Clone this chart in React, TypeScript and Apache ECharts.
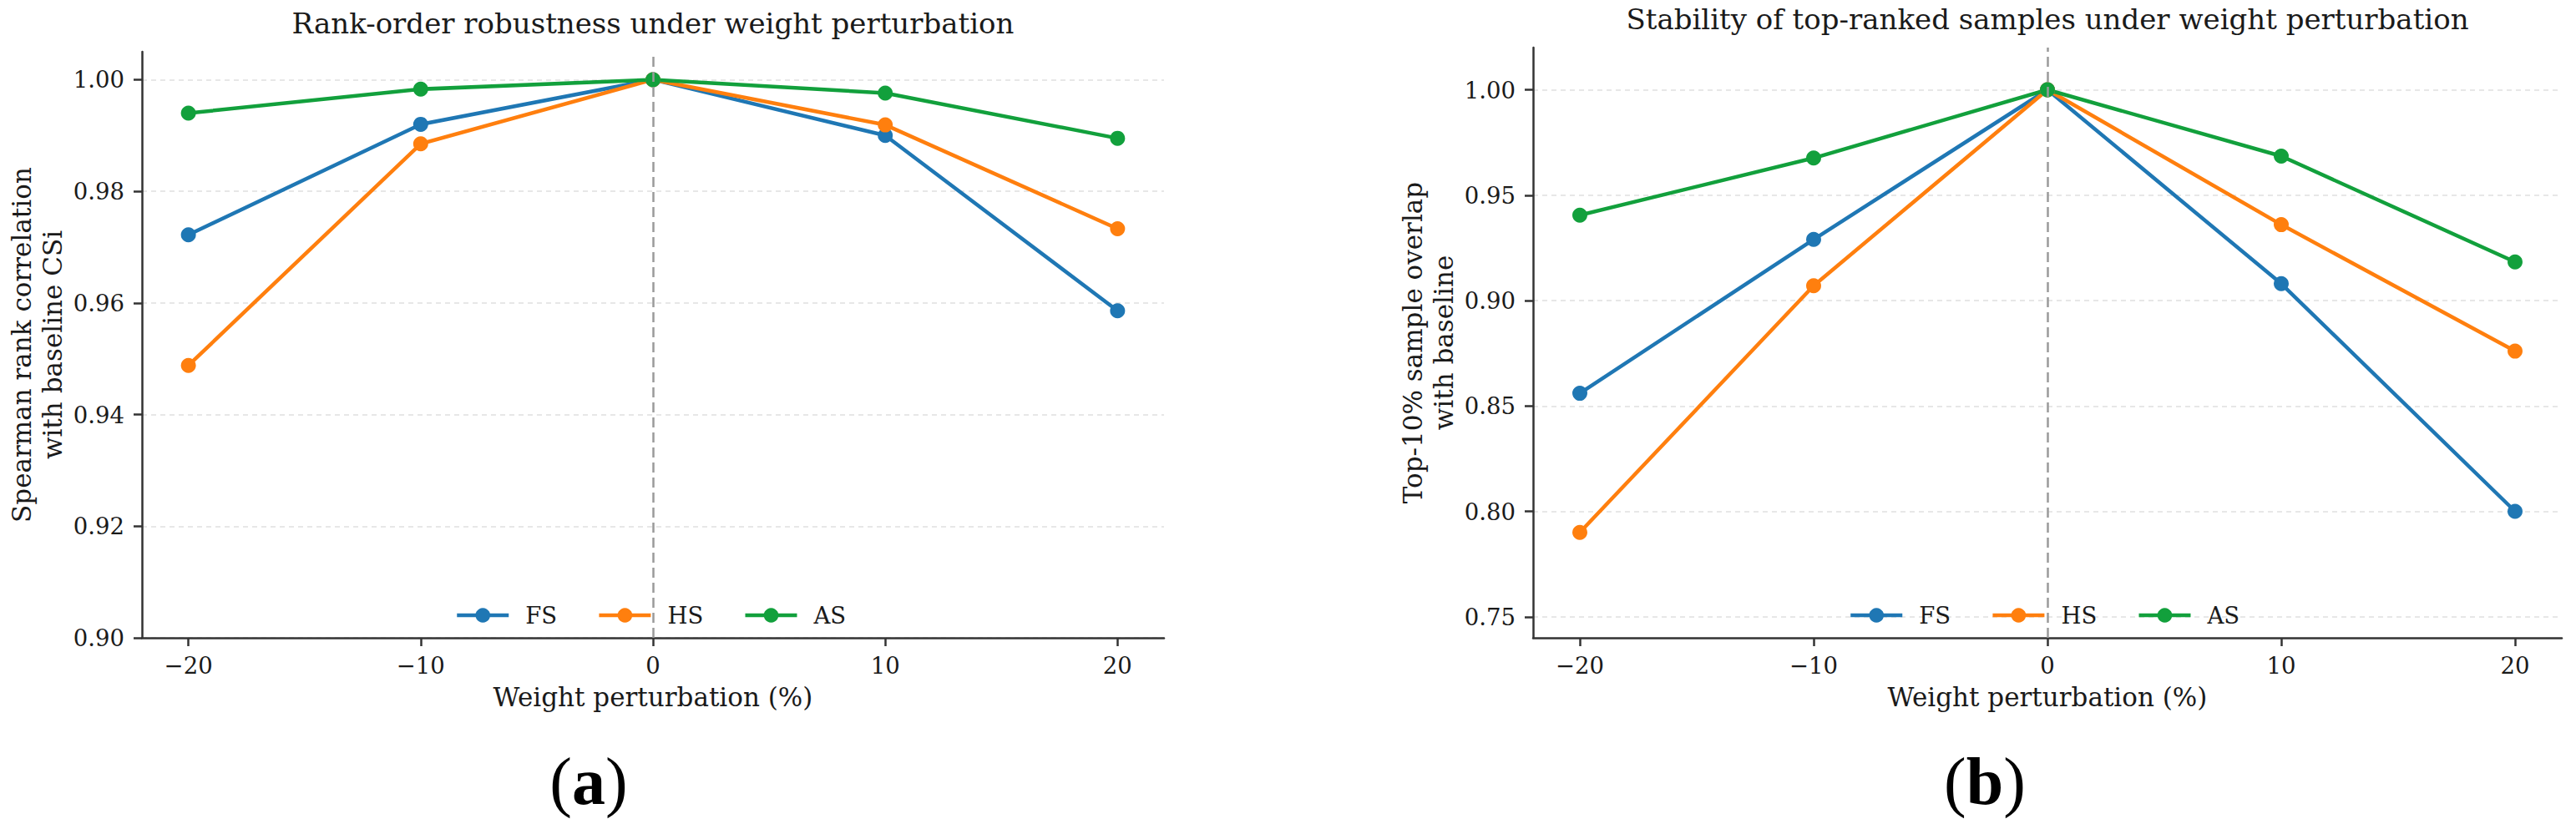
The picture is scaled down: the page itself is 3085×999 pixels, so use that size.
import React, { useEffect, useRef } from "react";
import * as echarts from "echarts";

// ---- data ----
const perturbations = [-20, -10, 0, 10, 20];
const seriesNames = ["FS", "HS", "AS"];
const seriesColors = ["#1f77b4", "#ff7f0e", "#12a03c"];

// (a) Spearman rank correlation with baseline CSi
const fsSpearman = [0.9722, 0.992, 1.0, 0.99, 0.9586];
const hsSpearman = [0.9488, 0.9885, 1.0, 0.9919, 0.9733];
const asSpearman = [0.994, 0.9983, 1.0, 0.9976, 0.9895];

// (b) Top-10% sample overlap with baseline
const fsOverlap = [0.856, 0.929, 1.0, 0.908, 0.8];
const hsOverlap = [0.79, 0.907, 1.0, 0.936, 0.876];
const asOverlap = [0.9405, 0.9676, 1.0, 0.9685, 0.9183];

const xTicks = [-20, -10, 0, 10, 20];
const yTicksA = [0.9, 0.92, 0.94, 0.96, 0.98, 1.0];
const yTicksB = [0.75, 0.8, 0.85, 0.9, 0.95, 1.0];

const titleA = "Rank-order robustness under weight perturbation";
const titleB = "Stability of top-ranked samples under weight perturbation";
const yNameA = "Spearman rank correlation\nwith baseline CSi";
const yNameB = "Top-10% sample overlap\nwith baseline";
const xName = "Weight perturbation (%)";

const FONT = "DejaVu Serif";
const TEXT = "#1a1a1a";
const SPINE = "#333333";
const TICK_FS = 27.5;
const LABEL_FS = 31;
const TITLE_FS = 34;
const LEGEND_FS = 27.5;

function fmtX(v: number) {
  return v < 0 ? "\u2212" + Math.abs(v) : String(v);
}

function xAxisCfg(gridIndex: number) {
  return {
    type: "value",
    gridIndex,
    min: -22,
    max: 22,
    name: xName,
    nameLocation: "middle",
    nameGap: 55,
    nameTextStyle: { fontFamily: FONT, fontSize: LABEL_FS, color: TEXT, lineHeight: 31 },
    axisLine: { show: true, onZero: false, lineStyle: { color: SPINE, width: 2.5 } },
    axisTick: { show: true, length: 10, lineStyle: { color: SPINE, width: 2.5 }, customValues: xTicks },
    axisLabel: {
      fontFamily: FONT,
      fontSize: TICK_FS,
      color: TEXT,
      margin: 19,
      customValues: xTicks,
      formatter: (v: number) => fmtX(v),
    },
    splitLine: { show: false },
  };
}

function yAxisCfg(gridIndex: number, min: number, max: number, ticks: number[], name: string) {
  return {
    type: "value",
    gridIndex,
    min,
    max,
    name,
    nameLocation: "middle",
    nameRotate: 90,
    nameGap: 89,
    nameTextStyle: { fontFamily: FONT, fontSize: LABEL_FS, color: TEXT, lineHeight: 37, align: "center" },
    axisLine: { show: true, onZero: false, lineStyle: { color: SPINE, width: 2.5 } },
    axisTick: { show: true, length: 10, lineStyle: { color: SPINE, width: 2.5 }, customValues: ticks },
    axisLabel: {
      fontFamily: FONT,
      fontSize: TICK_FS,
      color: TEXT,
      margin: 21,
      customValues: ticks,
      formatter: (v: number) => v.toFixed(2),
    },
    splitLine: { show: true, lineStyle: { color: "#e0e0e0", width: 1.5, type: [6, 5] } },
  };
}

function lineSeries(name: string, color: string, values: number[], idx: number, withVLine: boolean) {
  const s: any = {
    type: "line",
    name,
    xAxisIndex: idx,
    yAxisIndex: idx,
    data: perturbations.map((p, i) => [p, values[i]]),
    symbol: "circle",
    symbolSize: 18,
    showSymbol: true,
    itemStyle: { color },
    lineStyle: { color, width: 4.5 },
    emphasis: { disabled: true },
  };
  if (withVLine) {
    s.markLine = {
      silent: true,
      symbol: ["none", "none"],
      label: { show: false },
      lineStyle: { color: "#9a9a9a", width: 2.5, type: [12, 6] },
      data: [{ xAxis: 0 }],
    };
  }
  return s;
}

function legendCfg(left: number) {
  return {
    left,
    top: 723,
    orient: "horizontal",
    padding: 0,
    itemWidth: 62,
    itemHeight: 22,
    itemGap: 48,
    data: seriesNames,
    selectedMode: false,
    lineStyle: { width: 4.5 },
    textStyle: { fontFamily: FONT, fontSize: LEGEND_FS, color: TEXT, padding: [0, 0, 0, 15] },
  };
}

function captionText(letter: string, x: number) {
  const rich: any = {};
  rich[letter] = { fontFamily: "Liberation Serif", fontSize: 80, fontWeight: "bold", fill: "#000" };
  return {
    type: "text",
    style: {
      text: "({" + letter + "|" + letter + "})",
      x,
      y: 936,
      align: "center",
      verticalAlign: "middle",
      fontFamily: "Liberation Serif",
      fontSize: 80,
      fill: "#000",
      rich,
    },
  };
}

export default function App() {
  const ref = useRef<HTMLDivElement>(null);

  useEffect(() => {
    if (!ref.current) return;
    const chart = echarts.init(ref.current, undefined, { renderer: "svg" });
    const dataA = [fsSpearman, hsSpearman, asSpearman];
    const dataB = [fsOverlap, hsOverlap, asOverlap];
    const series: any[] = [];
    seriesNames.forEach((n, i) => series.push(lineSeries(n, seriesColors[i], dataA[i], 0, i === 0)));
    seriesNames.forEach((n, i) => series.push(lineSeries(n, seriesColors[i], dataB[i], 1, i === 0)));

    const option: any = {
      animation: false,
      backgroundColor: "#ffffff",
      title: [
        {
          text: titleA,
          left: 782,
          top: 11,
          textAlign: "center",
          padding: 0,
          textStyle: { fontFamily: FONT, fontSize: TITLE_FS, fontWeight: "normal", color: TEXT },
        },
        {
          text: titleB,
          left: 2452,
          top: 6,
          textAlign: "center",
          padding: 0,
          textStyle: { fontFamily: FONT, fontSize: TITLE_FS, fontWeight: "normal", color: TEXT },
        },
      ],
      legend: [legendCfg(545), legendCfg(2214)],
      grid: [
        { left: 170, top: 62, width: 1224, height: 702, containLabel: false },
        { left: 1836, top: 57, width: 1232, height: 707, containLabel: false },
      ],
      xAxis: [xAxisCfg(0), xAxisCfg(1)],
      yAxis: [
        yAxisCfg(0, 0.9, 1.005, yTicksA, yNameA),
        yAxisCfg(1, 0.74, 1.02, yTicksB, yNameB),
      ],
      series,
      graphic: [captionText("a", 705), captionText("b", 2377)],
    };
    chart.setOption(option);
    return () => chart.dispose();
  }, []);

  return (
    <div
      ref={ref}
      style={{ position: "absolute", left: 0, top: 0, width: 3085, height: 999, background: "#fff" }}
    />
  );
}
